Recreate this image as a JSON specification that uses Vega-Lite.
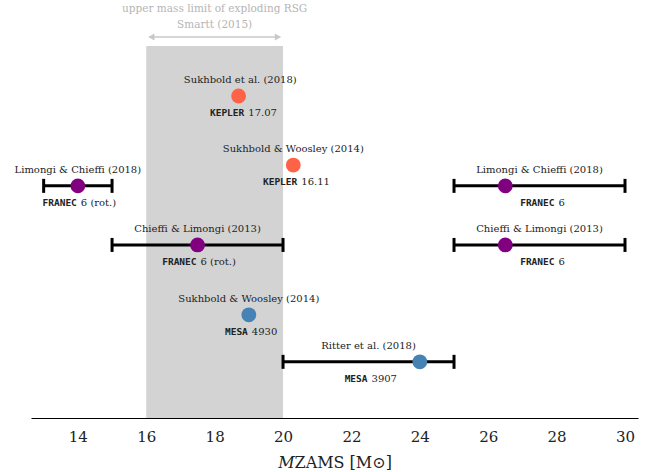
{
  "$schema": "https://vega.github.io/schema/vega-lite/v6.json",
  "width": 607,
  "height": 416,
  "autosize": {"type": "none"},
  "padding": {"left": 31, "top": 2, "right": 19, "bottom": 54},
  "config": {"view": {"stroke": null}, "font": "DejaVu Serif"},
  "datasets": {
    "models": [
      {"author": "Sukhbold et al. (2018)", "code": "KEPLER", "version": "17.07", "mass": 18.7, "lo": null, "hi": null, "center": 18.75, "level": 7.74},
      {"author": "Sukhbold & Woosley (2014)", "code": "KEPLER", "version": "16.11", "mass": 20.3, "lo": null, "hi": null, "center": 20.3, "level": 6.08},
      {"author": "Limongi & Chieffi (2018)", "code": "FRANEC", "version": "6 (rot.)", "mass": 14, "lo": 13, "hi": 15, "center": 14, "level": 5.58},
      {"author": "Limongi & Chieffi (2018)", "code": "FRANEC", "version": "6", "mass": 26.5, "lo": 25, "hi": 30, "center": 27.5, "level": 5.58},
      {"author": "Chieffi & Limongi (2013)", "code": "FRANEC", "version": "6 (rot.)", "mass": 17.5, "lo": 15, "hi": 20, "center": 17.5, "level": 4.16},
      {"author": "Chieffi & Limongi (2013)", "code": "FRANEC", "version": "6", "mass": 26.5, "lo": 25, "hi": 30, "center": 27.5, "level": 4.16},
      {"author": "Sukhbold & Woosley (2014)", "code": "MESA", "version": "4930", "mass": 19, "lo": null, "hi": null, "center": 19, "level": 2.48},
      {"author": "Ritter et al. (2018)", "code": "MESA", "version": "3907", "mass": 24, "lo": 20, "hi": 25, "center": 22.5, "level": 1.35}
    ]
  },
  "layer": [
    {
      "data": {"values": [{"x": 16, "x2": 20, "y": 0, "y2": 8.94}]},
      "mark": {"type": "rect", "color": "#d3d3d3"},
      "encoding": {
        "x": {"field": "x", "type": "quantitative",
              "scale": {"domain": [12.63, 30.38], "nice": false, "zero": false},
              "axis": {"title": "𝑀ZAMS [M⊙]", "values": [14, 16, 18, 20, 22, 24, 26, 28, 30], "grid": false, "ticks": false,
                       "domainColor": "black", "domainWidth": 1.2, "labelFont": "DejaVu Serif", "labelFontSize": 15,
                       "labelColor": "#222", "labelPadding": 11, "titleFont": "DejaVu Serif", "titleFontSize": 16,
                       "titleFontWeight": "normal", "titleColor": "#222", "titlePadding": 10}},
        "x2": {"field": "x2"},
        "y": {"field": "y", "type": "quantitative", "scale": {"domain": [0, 10], "nice": false, "zero": false}, "axis": null},
        "y2": {"field": "y2"}
      }
    },
    {
      "data": {"values": [{"x": 16.08, "x2": 19.92, "y": 9.16}]},
      "mark": {"type": "rule", "color": "#c8c8c8", "strokeWidth": 1.5},
      "encoding": {
        "x": {"field": "x", "type": "quantitative"},
        "x2": {"field": "x2"},
        "y": {"field": "y", "type": "quantitative"}
      }
    },
    {
      "data": {"values": [{"x": 16.15, "y": 9.16, "shape": "triangle-left"}, {"x": 19.85, "y": 9.16, "shape": "triangle-right"}]},
      "mark": {"type": "point", "filled": true, "color": "#c8c8c8", "size": 50, "opacity": 1},
      "encoding": {
        "x": {"field": "x", "type": "quantitative"},
        "y": {"field": "y", "type": "quantitative"},
        "shape": {"field": "shape", "type": "nominal", "scale": {"domain": ["triangle-left", "triangle-right"], "range": ["triangle-left", "triangle-right"]}, "legend": null}
      }
    },
    {
      "data": {"values": [{"x": 18, "y": 9.83, "t": "upper mass limit of exploding RSG"}, {"x": 18, "y": 9.45, "t": "Smartt (2015)"}]},
      "mark": {"type": "text", "color": "#b5b5b5", "fontSize": 10.5, "font": "DejaVu Serif", "baseline": "middle"},
      "encoding": {
        "x": {"field": "x", "type": "quantitative"},
        "y": {"field": "y", "type": "quantitative"},
        "text": {"field": "t"}
      }
    },
    {
      "data": {"name": "models"},
      "transform": [{"filter": "isValid(datum.lo)"}],
      "mark": {"type": "rule", "color": "black", "strokeWidth": 3},
      "encoding": {
        "x": {"field": "lo", "type": "quantitative"},
        "x2": {"field": "hi"},
        "y": {"field": "level", "type": "quantitative"}
      }
    },
    {
      "data": {"name": "models"},
      "transform": [{"filter": "isValid(datum.lo)"}],
      "mark": {"type": "tick", "orient": "vertical", "color": "black", "size": 14, "thickness": 3, "opacity": 1},
      "encoding": {
        "x": {"field": "lo", "type": "quantitative"},
        "y": {"field": "level", "type": "quantitative"}
      }
    },
    {
      "data": {"name": "models"},
      "transform": [{"filter": "isValid(datum.hi)"}],
      "mark": {"type": "tick", "orient": "vertical", "color": "black", "size": 14, "thickness": 3, "opacity": 1},
      "encoding": {
        "x": {"field": "hi", "type": "quantitative"},
        "y": {"field": "level", "type": "quantitative"}
      }
    },
    {
      "data": {"name": "models"},
      "mark": {"type": "circle", "size": 220, "opacity": 1},
      "encoding": {
        "x": {"field": "mass", "type": "quantitative"},
        "y": {"field": "level", "type": "quantitative"},
        "color": {"field": "code", "type": "nominal", "scale": {"domain": ["KEPLER", "FRANEC", "MESA"], "range": ["#ff6347", "#800080", "#4682b4"]}, "legend": null}
      }
    },
    {
      "data": {"name": "models"},
      "mark": {"type": "text", "font": "DejaVu Serif", "fontSize": 10, "color": "#222", "baseline": "middle", "dy": -16},
      "encoding": {
        "x": {"field": "center", "type": "quantitative"},
        "y": {"field": "level", "type": "quantitative"},
        "text": {"field": "author"}
      }
    },
    {
      "data": {"name": "models"},
      "transform": [{"filter": "datum.code == 'KEPLER'"}],
      "mark": {"type": "text", "font": "DejaVu Sans Mono", "fontWeight": "bold", "fontSize": 9.5, "color": "#222", "baseline": "middle", "align": "right", "dy": 17, "dx": 4},
      "encoding": {
        "x": {"field": "center", "type": "quantitative"},
        "y": {"field": "level", "type": "quantitative"},
        "text": {"field": "code"}
      }
    },
    {
      "data": {"name": "models"},
      "transform": [{"filter": "datum.code == 'KEPLER'"}],
      "mark": {"type": "text", "font": "DejaVu Serif", "fontSize": 10, "color": "#222", "baseline": "middle", "align": "left", "dy": 17, "dx": 8},
      "encoding": {
        "x": {"field": "center", "type": "quantitative"},
        "y": {"field": "level", "type": "quantitative"},
        "text": {"field": "version"}
      }
    },
    {
      "data": {"name": "models"},
      "transform": [{"filter": "datum.version == '6 (rot.)'"}],
      "mark": {"type": "text", "font": "DejaVu Sans Mono", "fontWeight": "bold", "fontSize": 9.5, "color": "#222", "baseline": "middle", "align": "right", "dy": 17, "dx": -1},
      "encoding": {
        "x": {"field": "center", "type": "quantitative"},
        "y": {"field": "level", "type": "quantitative"},
        "text": {"field": "code"}
      }
    },
    {
      "data": {"name": "models"},
      "transform": [{"filter": "datum.version == '6 (rot.)'"}],
      "mark": {"type": "text", "font": "DejaVu Serif", "fontSize": 10, "color": "#222", "baseline": "middle", "align": "left", "dy": 17, "dx": 3},
      "encoding": {
        "x": {"field": "center", "type": "quantitative"},
        "y": {"field": "level", "type": "quantitative"},
        "text": {"field": "version"}
      }
    },
    {
      "data": {"name": "models"},
      "transform": [{"filter": "datum.version == '6'"}],
      "mark": {"type": "text", "font": "DejaVu Sans Mono", "fontWeight": "bold", "fontSize": 9.5, "color": "#222", "baseline": "middle", "align": "right", "dy": 17, "dx": 15},
      "encoding": {
        "x": {"field": "center", "type": "quantitative"},
        "y": {"field": "level", "type": "quantitative"},
        "text": {"field": "code"}
      }
    },
    {
      "data": {"name": "models"},
      "transform": [{"filter": "datum.version == '6'"}],
      "mark": {"type": "text", "font": "DejaVu Serif", "fontSize": 10, "color": "#222", "baseline": "middle", "align": "left", "dy": 17, "dx": 19},
      "encoding": {
        "x": {"field": "center", "type": "quantitative"},
        "y": {"field": "level", "type": "quantitative"},
        "text": {"field": "version"}
      }
    },
    {
      "data": {"name": "models"},
      "transform": [{"filter": "datum.code == 'MESA'"}],
      "mark": {"type": "text", "font": "DejaVu Sans Mono", "fontWeight": "bold", "fontSize": 9.5, "color": "#222", "baseline": "middle", "align": "right", "dy": 17, "dx": -1},
      "encoding": {
        "x": {"field": "center", "type": "quantitative"},
        "y": {"field": "level", "type": "quantitative"},
        "text": {"field": "code"}
      }
    },
    {
      "data": {"name": "models"},
      "transform": [{"filter": "datum.code == 'MESA'"}],
      "mark": {"type": "text", "font": "DejaVu Serif", "fontSize": 10, "color": "#222", "baseline": "middle", "align": "left", "dy": 17, "dx": 3},
      "encoding": {
        "x": {"field": "center", "type": "quantitative"},
        "y": {"field": "level", "type": "quantitative"},
        "text": {"field": "version"}
      }
    }
  ]
}
